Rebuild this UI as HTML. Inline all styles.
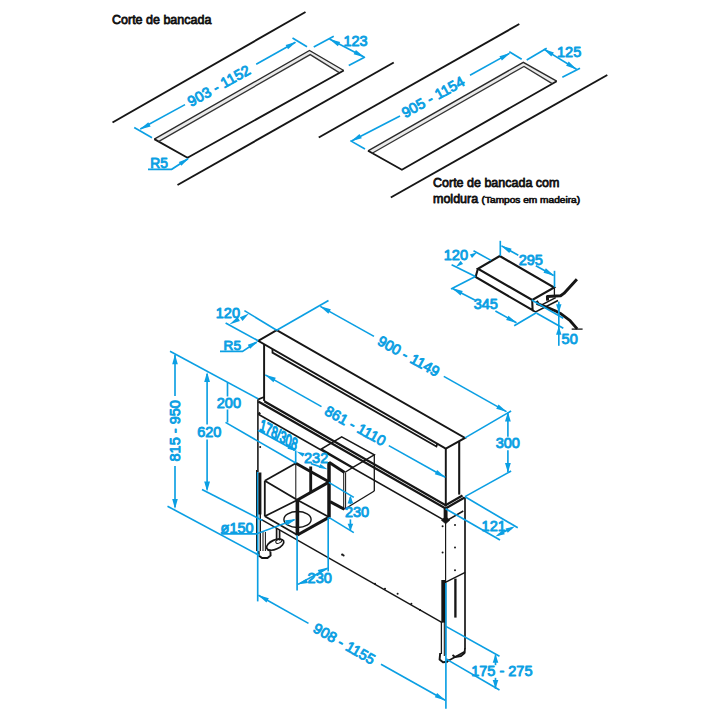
<!DOCTYPE html>
<html><head><meta charset="utf-8"><title>Dimensions</title>
<style>
html,body{margin:0;padding:0;background:#fff;}
body{width:720px;height:720px;overflow:hidden;}
svg{display:block;}
svg text{font-family:"Liberation Sans",sans-serif;stroke-linejoin:round;}
</style></head><body>
<svg width="720" height="720" viewBox="0 0 720 720">
<rect width="720" height="720" fill="#ffffff"/>
<line x1="112.50" y1="122.50" x2="305.50" y2="12.00" stroke="#161616" stroke-width="1.95" stroke-linecap="butt"/>
<line x1="177.50" y1="185.00" x2="393.75" y2="62.50" stroke="#161616" stroke-width="1.95" stroke-linecap="butt"/>
<polygon points="154.3,139.1 309.5,50.5 343.75,70.5 339.2,72.6 310.2,54.6 158.5,141.6" fill="#ebebeb"/>
<path d="M154.30 139.10 L309.50 50.50 L343.75 70.50" fill="none" stroke="#2a2a2a" stroke-width="1.37" stroke-linejoin="miter"/>
<path d="M343.75 70.50 L187.50 157.80 L154.30 139.10" fill="none" stroke="#161616" stroke-width="1.82" stroke-linejoin="miter"/>
<path d="M158.50 141.60 L310.20 54.60 L339.20 72.60" fill="none" stroke="#333" stroke-width="1.3" stroke-linejoin="miter"/>
<line x1="134.20" y1="127.50" x2="152.00" y2="137.70" stroke="#0b9fe3" stroke-width="1.65" stroke-linecap="butt"/>
<line x1="292.50" y1="38.00" x2="307.00" y2="46.80" stroke="#0b9fe3" stroke-width="1.65" stroke-linecap="butt"/>
<line x1="140.30" y1="129.00" x2="185.00" y2="104.60" stroke="#0b9fe3" stroke-width="1.65" stroke-linecap="butt"/>
<line x1="256.20" y1="64.20" x2="295.40" y2="42.30" stroke="#0b9fe3" stroke-width="1.65" stroke-linecap="butt"/>
<polygon points="139.80,129.60 148.29,122.18 150.63,126.49" fill="#0b9fe3"/>
<polygon points="296.40,41.70 288.05,49.26 285.63,45.00" fill="#0b9fe3"/>
<text x="0" y="0" font-size="14.5" fill="#0b9fe3" stroke="#0b9fe3" stroke-width="0.9" text-anchor="middle" transform="translate(218.90 85.50) rotate(-29.10) translate(0 5.19)" letter-spacing="0.12">903 - 1152</text>
<line x1="313.75" y1="47.00" x2="333.75" y2="36.25" stroke="#0b9fe3" stroke-width="1.65" stroke-linecap="butt"/>
<line x1="348.75" y1="65.50" x2="365.00" y2="57.00" stroke="#0b9fe3" stroke-width="1.65" stroke-linecap="butt"/>
<line x1="329.50" y1="39.00" x2="364.00" y2="57.00" stroke="#0b9fe3" stroke-width="1.65" stroke-linecap="butt"/>
<polygon points="329.30,38.90 340.17,41.88 337.87,46.21" fill="#0b9fe3"/>
<polygon points="364.50,57.20 353.63,54.22 355.93,49.89" fill="#0b9fe3"/>
<text x="343.40" y="46.00" font-size="14.5" fill="#0b9fe3" stroke="#0b9fe3" stroke-width="0.9" text-anchor="start">123</text>
<text x="150.30" y="167.60" font-size="13.8" fill="#0b9fe3" stroke="#0b9fe3" stroke-width="0.9" text-anchor="start">R5</text>
<path d="M148.00 169.30 L171.70 169.30 L188.00 158.80" fill="none" stroke="#0b9fe3" stroke-width="1.65" stroke-linejoin="miter"/>
<polygon points="189.30,157.90 181.33,165.82 178.82,161.96" fill="#0b9fe3"/>
<line x1="318.75" y1="137.50" x2="519.30" y2="24.00" stroke="#161616" stroke-width="1.95" stroke-linecap="butt"/>
<line x1="390.80" y1="197.50" x2="607.30" y2="75.00" stroke="#161616" stroke-width="1.95" stroke-linecap="butt"/>
<polygon points="368,150.8 523.3,62.3 556.7,81.2 552.2,83.6 524,66.4 372.2,153.3" fill="#ebebeb"/>
<path d="M368.00 150.80 L523.30 62.30 L556.70 81.20" fill="none" stroke="#2a2a2a" stroke-width="1.37" stroke-linejoin="miter"/>
<path d="M556.70 81.20 L401.90 169.70 L368.00 150.80" fill="none" stroke="#161616" stroke-width="1.82" stroke-linejoin="miter"/>
<path d="M372.20 153.30 L524.00 66.40 L552.20 83.60" fill="none" stroke="#333" stroke-width="1.3" stroke-linejoin="miter"/>
<line x1="350.30" y1="140.60" x2="365.00" y2="149.00" stroke="#0b9fe3" stroke-width="1.65" stroke-linecap="butt"/>
<line x1="509.30" y1="51.70" x2="521.70" y2="59.30" stroke="#0b9fe3" stroke-width="1.65" stroke-linecap="butt"/>
<line x1="351.50" y1="141.00" x2="400.00" y2="116.00" stroke="#0b9fe3" stroke-width="1.65" stroke-linecap="butt"/>
<line x1="470.00" y1="75.20" x2="509.40" y2="53.40" stroke="#0b9fe3" stroke-width="1.65" stroke-linecap="butt"/>
<polygon points="351.00,141.30 359.49,133.88 361.83,138.19" fill="#0b9fe3"/>
<polygon points="510.20,53.00 501.85,60.56 499.43,56.30" fill="#0b9fe3"/>
<text x="0" y="0" font-size="14.5" fill="#0b9fe3" stroke="#0b9fe3" stroke-width="0.9" text-anchor="middle" transform="translate(433.00 96.80) rotate(-29.10) translate(0 5.19)" letter-spacing="0.12">905 - 1154</text>
<line x1="526.70" y1="60.00" x2="546.70" y2="48.30" stroke="#0b9fe3" stroke-width="1.65" stroke-linecap="butt"/>
<line x1="562.30" y1="77.30" x2="580.00" y2="68.30" stroke="#0b9fe3" stroke-width="1.65" stroke-linecap="butt"/>
<line x1="543.80" y1="49.10" x2="576.50" y2="69.20" stroke="#0b9fe3" stroke-width="1.65" stroke-linecap="butt"/>
<polygon points="543.20,48.80 553.87,52.44 551.31,56.62" fill="#0b9fe3"/>
<polygon points="576.80,69.40 566.13,65.76 568.69,61.58" fill="#0b9fe3"/>
<text x="557.00" y="57.30" font-size="14.5" fill="#0b9fe3" stroke="#0b9fe3" stroke-width="0.9" text-anchor="start">125</text>
<text x="433.00" y="186.80" font-size="12.5" fill="#111" stroke="#111" stroke-width="0.78" text-anchor="start">Corte de bancada com</text>
<text x="433.00" y="203.10" font-size="12.5" fill="#111" stroke="#111" stroke-width="0.78" text-anchor="start">moldura</text>
<text x="481.60" y="202.80" font-size="8.6" fill="#111" stroke="#111" stroke-width="0.62" text-anchor="start" textLength="98.5" lengthAdjust="spacingAndGlyphs">(Tampos em madeira)</text>
<text x="112.00" y="23.80" font-size="12.5" fill="#111" stroke="#111" stroke-width="0.78" text-anchor="start">Corte de bancada</text>
<path d="M499.75 256.00 L554.20 287.50 L532.20 300.00 L477.90 268.75 Z" fill="none" stroke="#161616" stroke-width="2.08" stroke-linejoin="miter"/>
<path d="M477.90 268.75 L475.60 277.00 L532.60 310.20 L532.20 300.00" fill="none" stroke="#161616" stroke-width="2.08" stroke-linejoin="miter"/>
<path d="M532.60 310.20 L535.60 311.90 L558.00 300.60" fill="none" stroke="#161616" stroke-width="1.69" stroke-linejoin="miter"/>
<path d="M547.60 300.60 L547.40 296.50 L560.60 295.80 L563.90 293.40 L576.90 279.30" fill="none" stroke="#161616" stroke-width="2.99" stroke-linejoin="round"/>
<line x1="540.30" y1="305.60" x2="555.70" y2="297.60" stroke="#161616" stroke-width="1.56" stroke-linecap="butt"/>
<path d="M536.50 302.80 L538.50 301.60" fill="none" stroke="#161616" stroke-width="3.12" stroke-linejoin="miter"/>
<path d="M536.60 303.40 L547.60 307.70 L555.70 311.00 L560.40 313.40 L570.10 320.70 L577.20 328.90" fill="none" stroke="#161616" stroke-width="2.86" stroke-linejoin="round"/>
<line x1="571.70" y1="329.10" x2="582.60" y2="329.10" stroke="#161616" stroke-width="1.3" stroke-linecap="butt"/>
<line x1="500.30" y1="240.80" x2="500.30" y2="256.00" stroke="#0b9fe3" stroke-width="1.65" stroke-linecap="butt"/>
<line x1="554.50" y1="270.80" x2="554.50" y2="287.40" stroke="#0b9fe3" stroke-width="1.65" stroke-linecap="butt"/>
<line x1="554.40" y1="287.60" x2="554.40" y2="296.40" stroke="#161616" stroke-width="1.3" stroke-linecap="butt"/>
<line x1="501.60" y1="245.90" x2="518.30" y2="255.20" stroke="#0b9fe3" stroke-width="1.65" stroke-linecap="butt"/>
<line x1="535.80" y1="265.80" x2="553.60" y2="275.40" stroke="#0b9fe3" stroke-width="1.65" stroke-linecap="butt"/>
<polygon points="500.80,245.50 511.61,248.67 509.25,252.96" fill="#0b9fe3"/>
<polygon points="554.30,275.80 543.49,272.63 545.85,268.34" fill="#0b9fe3"/>
<text x="518.70" y="265.20" font-size="14.5" fill="#0b9fe3" stroke="#0b9fe3" stroke-width="0.9" text-anchor="start">295</text>
<line x1="473.50" y1="250.75" x2="491.00" y2="260.40" stroke="#0b9fe3" stroke-width="1.65" stroke-linecap="butt"/>
<line x1="451.60" y1="264.75" x2="475.40" y2="276.60" stroke="#0b9fe3" stroke-width="1.65" stroke-linecap="butt"/>
<polygon points="477.20,252.20 472.00,257.96 469.82,254.61" fill="#0b9fe3"/>
<polygon points="455.80,266.90 460.69,260.87 463.04,264.11" fill="#0b9fe3"/>
<text x="443.80" y="259.70" font-size="14.5" fill="#0b9fe3" stroke="#0b9fe3" stroke-width="0.9" text-anchor="start">120</text>
<line x1="475.40" y1="276.60" x2="451.00" y2="289.00" stroke="#0b9fe3" stroke-width="1.65" stroke-linecap="butt"/>
<line x1="452.40" y1="288.40" x2="474.80" y2="300.00" stroke="#0b9fe3" stroke-width="1.65" stroke-linecap="butt"/>
<line x1="495.40" y1="311.00" x2="516.40" y2="322.70" stroke="#0b9fe3" stroke-width="1.65" stroke-linecap="butt"/>
<polygon points="451.90,288.10 462.77,291.08 460.47,295.41" fill="#0b9fe3"/>
<polygon points="517.00,323.00 506.13,320.02 508.43,315.69" fill="#0b9fe3"/>
<text x="473.70" y="308.70" font-size="14.5" fill="#0b9fe3" stroke="#0b9fe3" stroke-width="0.9" text-anchor="start">345</text>
<line x1="514.20" y1="325.80" x2="536.70" y2="312.50" stroke="#0b9fe3" stroke-width="1.65" stroke-linecap="butt"/>
<line x1="558.80" y1="301.70" x2="558.80" y2="345.80" stroke="#0b9fe3" stroke-width="1.65" stroke-linecap="butt"/>
<polygon points="558.80,312.80 556.10,304.30 561.50,304.30" fill="#0b9fe3"/>
<polygon points="558.80,326.20 561.50,334.70 556.10,334.70" fill="#0b9fe3"/>
<text x="561.60" y="344.40" font-size="14.5" fill="#0b9fe3" stroke="#0b9fe3" stroke-width="0.9" text-anchor="start">50</text>
<line x1="531.70" y1="300.00" x2="563.30" y2="318.30" stroke="#0b9fe3" stroke-width="1.65" stroke-linecap="butt"/>
<line x1="536.70" y1="313.30" x2="563.30" y2="328.30" stroke="#0b9fe3" stroke-width="1.65" stroke-linecap="butt"/>
<path d="M258.20 340.80 L276.70 330.20 L465.00 437.90 L445.80 448.60 Z" fill="none" stroke="#161616" stroke-width="1.95" stroke-linejoin="miter"/>
<path d="M258.20 399.40 L264.10 397.00" fill="none" stroke="#161616" stroke-width="1.69" stroke-linejoin="miter"/>
<line x1="264.10" y1="344.18" x2="264.10" y2="401.00" stroke="#161616" stroke-width="1.95" stroke-linecap="butt"/>
<line x1="445.80" y1="448.60" x2="445.80" y2="506.50" stroke="#161616" stroke-width="1.95" stroke-linecap="butt"/>
<line x1="459.20" y1="441.20" x2="459.20" y2="494.60" stroke="#161616" stroke-width="2.08" stroke-linecap="butt"/>
<path d="M272.50 349.00 L272.50 352.60 L436.40 446.50 L437.40 443.57" fill="none" stroke="#161616" stroke-width="1.82" stroke-linejoin="miter"/>
<line x1="257.90" y1="399.20" x2="257.90" y2="472.00" stroke="#161616" stroke-width="1.56" stroke-linecap="butt"/>
<line x1="256.60" y1="470.00" x2="256.60" y2="551.00" stroke="#161616" stroke-width="1.17" stroke-linecap="butt"/>
<path d="M264.20 401.20 L445.60 505.30 L462.50 495.50" fill="none" stroke="#161616" stroke-width="2.27" stroke-linejoin="miter"/>
<path d="M258.30 401.50 L445.60 508.50 L464.60 497.40" fill="none" stroke="#161616" stroke-width="2.27" stroke-linejoin="miter"/>
<path d="M258.30 414.20 L445.80 521.10 L463.30 511.00" fill="none" stroke="#161616" stroke-width="1.56" stroke-linejoin="miter"/>
<path d="M258.60 412.60 L260.20 414.20" fill="none" stroke="#161616" stroke-width="2.08" stroke-linejoin="miter"/>
<line x1="445.60" y1="508.00" x2="445.60" y2="655.00" stroke="#161616" stroke-width="1.17" stroke-linecap="butt"/>
<line x1="445.60" y1="508.50" x2="445.60" y2="521.50" stroke="#161616" stroke-width="3.9" stroke-linecap="butt"/>
<path d="M445.60 516.60 L449.80 520.20 L445.60 523.80 L441.40 520.20 Z" fill="#161616" stroke="#161616" stroke-width="0.65" stroke-linejoin="miter"/>
<line x1="465.00" y1="497.00" x2="465.00" y2="648.50" stroke="#161616" stroke-width="1.69" stroke-linecap="butt"/>
<line x1="261.50" y1="519.60" x2="442.20" y2="622.60" stroke="#161616" stroke-width="1.43" stroke-linecap="butt"/>
<line x1="445.80" y1="582.20" x2="465.20" y2="572.40" stroke="#161616" stroke-width="1.43" stroke-linecap="butt"/>
<line x1="455.40" y1="578.60" x2="455.40" y2="617.60" stroke="#161616" stroke-width="2.34" stroke-linecap="butt"/>
<line x1="443.40" y1="580.00" x2="443.40" y2="622.60" stroke="#161616" stroke-width="4.16" stroke-linecap="butt"/>
<line x1="441.40" y1="622.00" x2="441.40" y2="654.00" stroke="#161616" stroke-width="1.3" stroke-linecap="butt"/>
<line x1="444.30" y1="622.00" x2="444.30" y2="656.00" stroke="#161616" stroke-width="1.04" stroke-linecap="butt"/>
<path d="M440.20 653.00 L439.60 659.50 L443.00 662.30 L447.00 661.80 L448.00 659.00" fill="none" stroke="#161616" stroke-width="1.95" stroke-linejoin="round"/>
<path d="M447.00 661.50 L465.00 651.50" fill="none" stroke="#161616" stroke-width="1.69" stroke-linejoin="miter"/>
<path d="M465.00 648.00 L464.60 653.00 L461.00 656.00 L455.00 657.00 L452.50 655.00" fill="none" stroke="#161616" stroke-width="1.82" stroke-linejoin="round"/>
<circle cx="442.60" cy="526.20" r="1.0" fill="#161616"/>
<circle cx="455.00" cy="525.00" r="1.0" fill="#161616"/>
<circle cx="442.60" cy="552.60" r="1.0" fill="#161616"/>
<circle cx="455.00" cy="547.60" r="1.0" fill="#161616"/>
<circle cx="455.00" cy="570.20" r="1.0" fill="#161616"/>
<circle cx="375.00" cy="583.80" r="1.0" fill="#161616"/>
<circle cx="385.00" cy="588.80" r="1.0" fill="#161616"/>
<circle cx="397.60" cy="593.80" r="1.0" fill="#161616"/>
<circle cx="411.40" cy="603.80" r="1.0" fill="#161616"/>
<circle cx="420.00" cy="610.00" r="1.0" fill="#161616"/>
<circle cx="342.30" cy="554.60" r="1.2" fill="#161616"/>
<circle cx="343.60" cy="555.40" r="1.0" fill="#161616"/>
<circle cx="260.20" cy="447.00" r="1.0" fill="#161616"/>
<path d="M264.80 480.80 L295.80 463.20" fill="none" stroke="#161616" stroke-width="1.82" stroke-linejoin="miter"/>
<path d="M264.80 480.80 L297.40 500.00" fill="none" stroke="#161616" stroke-width="1.82" stroke-linejoin="miter"/>
<path d="M264.80 480.80 L264.80 516.30" fill="none" stroke="#161616" stroke-width="1.82" stroke-linejoin="miter"/>
<path d="M264.80 516.30 L297.40 535.00" fill="none" stroke="#161616" stroke-width="1.82" stroke-linejoin="miter"/>
<path d="M264.80 516.30 L297.40 500.00" fill="none" stroke="#161616" stroke-width="1.69" stroke-linejoin="miter"/>
<path d="M297.40 500.00 L329.30 517.20" fill="none" stroke="#161616" stroke-width="1.69" stroke-linejoin="miter"/>
<line x1="295.80" y1="463.20" x2="295.80" y2="498.50" stroke="#161616" stroke-width="1.04" stroke-linecap="butt"/>
<path d="M295.80 463.20 L329.30 481.90" fill="none" stroke="#161616" stroke-width="2.86" stroke-linejoin="miter"/>
<path d="M297.40 500.00 L329.30 481.90" fill="none" stroke="#161616" stroke-width="3.12" stroke-linejoin="miter"/>
<line x1="329.00" y1="462.00" x2="329.00" y2="517.60" stroke="#161616" stroke-width="3.51" stroke-linecap="butt"/>
<line x1="297.40" y1="499.60" x2="297.40" y2="535.40" stroke="#161616" stroke-width="3.64" stroke-linecap="butt"/>
<path d="M297.40 535.00 L329.30 517.20" fill="none" stroke="#161616" stroke-width="3.12" stroke-linejoin="miter"/>
<line x1="310.70" y1="466.50" x2="310.70" y2="492.00" stroke="#161616" stroke-width="2.86" stroke-linecap="butt"/>
<ellipse cx="297.5" cy="519.5" rx="13.6" ry="8.0" fill="none" stroke="#161616" stroke-width="1.4"/>
<path d="M341.70 436.80 L374.30 454.80 L352.90 467.40 L321.30 449.00 Z" fill="none" stroke="#161616" stroke-width="1.49" stroke-linejoin="miter"/>
<line x1="374.30" y1="454.80" x2="374.30" y2="491.00" stroke="#161616" stroke-width="1.3" stroke-linecap="butt"/>
<path d="M352.90 467.40 L345.10 472.30" fill="none" stroke="#161616" stroke-width="1.3" stroke-linejoin="miter"/>
<line x1="343.70" y1="472.60" x2="343.70" y2="508.60" stroke="#161616" stroke-width="1.04" stroke-linecap="butt"/>
<line x1="345.60" y1="472.60" x2="345.60" y2="508.60" stroke="#161616" stroke-width="1.04" stroke-linecap="butt"/>
<path d="M329.00 462.30 L344.60 472.40" fill="none" stroke="#161616" stroke-width="2.99" stroke-linejoin="miter"/>
<path d="M330.00 501.60 L344.40 509.30" fill="none" stroke="#161616" stroke-width="2.99" stroke-linejoin="miter"/>
<path d="M344.40 509.30 L374.30 491.00" fill="none" stroke="#161616" stroke-width="1.3" stroke-linejoin="miter"/>
<line x1="260.30" y1="514.00" x2="260.30" y2="551.00" stroke="#161616" stroke-width="1.43" stroke-linecap="butt"/>
<line x1="263.00" y1="532.00" x2="263.00" y2="551.00" stroke="#161616" stroke-width="1.04" stroke-linecap="butt"/>
<line x1="265.40" y1="532.00" x2="265.40" y2="551.00" stroke="#161616" stroke-width="1.04" stroke-linecap="butt"/>
<path d="M258.60 551.00 L258.80 555.50 L262.00 558.00 L267.50 558.00 L270.60 555.50 L270.40 551.50" fill="none" stroke="#161616" stroke-width="1.95" stroke-linejoin="round"/>
<line x1="276.60" y1="528.50" x2="276.60" y2="540.50" stroke="#161616" stroke-width="1.69" stroke-linecap="butt"/>
<line x1="279.60" y1="530.00" x2="279.60" y2="540.50" stroke="#161616" stroke-width="1.69" stroke-linecap="butt"/>
<ellipse cx="275.2" cy="544.6" rx="9.2" ry="4.6" transform="rotate(-24 275.2 544.6)" fill="none" stroke="#161616" stroke-width="1.7"/>
<ellipse cx="278.8" cy="541.2" rx="3.2" ry="1.8" transform="rotate(-24 278.8 541.2)" fill="none" stroke="#161616" stroke-width="1.0"/>
<path d="M267.00 549.50 L270.50 551.50" fill="none" stroke="#161616" stroke-width="1.3" stroke-linejoin="miter"/>
<line x1="244.40" y1="310.60" x2="276.70" y2="330.20" stroke="#0b9fe3" stroke-width="1.65" stroke-linecap="butt"/>
<line x1="225.60" y1="323.10" x2="258.20" y2="340.80" stroke="#0b9fe3" stroke-width="1.65" stroke-linecap="butt"/>
<polygon points="248.90,313.50 242.57,320.94 239.86,317.22" fill="#0b9fe3"/>
<polygon points="229.30,324.60 237.54,316.96 239.91,320.91" fill="#0b9fe3"/>
<text x="215.80" y="317.90" font-size="14.5" fill="#0b9fe3" stroke="#0b9fe3" stroke-width="0.9" text-anchor="start">120</text>
<text x="223.60" y="350.00" font-size="13.6" fill="#0b9fe3" stroke="#0b9fe3" stroke-width="0.9" text-anchor="start">R5</text>
<path d="M220.00 351.40 L242.50 351.40 L256.60 342.20" fill="none" stroke="#0b9fe3" stroke-width="1.65" stroke-linejoin="miter"/>
<polygon points="258.40,341.00 250.16,348.64 247.79,344.69" fill="#0b9fe3"/>
<line x1="276.70" y1="330.20" x2="328.50" y2="300.50" stroke="#0b9fe3" stroke-width="1.65" stroke-linecap="butt"/>
<line x1="465.00" y1="437.90" x2="511.10" y2="411.00" stroke="#0b9fe3" stroke-width="1.65" stroke-linecap="butt"/>
<line x1="320.30" y1="306.40" x2="374.00" y2="336.40" stroke="#0b9fe3" stroke-width="1.65" stroke-linecap="butt"/>
<line x1="443.80" y1="376.40" x2="506.40" y2="411.60" stroke="#0b9fe3" stroke-width="1.65" stroke-linecap="butt"/>
<polygon points="320.00,306.20 330.81,309.37 328.45,313.66" fill="#0b9fe3"/>
<polygon points="507.00,412.00 496.19,408.83 498.55,404.54" fill="#0b9fe3"/>
<text x="0" y="0" font-size="14.5" fill="#0b9fe3" stroke="#0b9fe3" stroke-width="0.9" text-anchor="middle" transform="translate(408.80 356.00) rotate(28.90) translate(0 5.19)">900 - 1149</text>
<line x1="507.90" y1="412.40" x2="507.90" y2="436.80" stroke="#0b9fe3" stroke-width="1.65" stroke-linecap="butt"/>
<line x1="507.90" y1="450.20" x2="507.90" y2="472.00" stroke="#0b9fe3" stroke-width="1.65" stroke-linecap="butt"/>
<polygon points="507.90,412.00 510.80,421.50 505.00,421.50" fill="#0b9fe3"/>
<polygon points="507.90,472.60 505.00,463.10 510.80,463.10" fill="#0b9fe3"/>
<text x="495.70" y="448.20" font-size="14.5" fill="#0b9fe3" stroke="#0b9fe3" stroke-width="0.9" text-anchor="start">300</text>
<line x1="465.00" y1="496.60" x2="511.10" y2="471.00" stroke="#0b9fe3" stroke-width="1.65" stroke-linecap="butt"/>
<line x1="265.30" y1="374.90" x2="321.50" y2="406.60" stroke="#0b9fe3" stroke-width="1.65" stroke-linecap="butt"/>
<line x1="388.80" y1="445.60" x2="445.30" y2="477.20" stroke="#0b9fe3" stroke-width="1.65" stroke-linecap="butt"/>
<polygon points="265.00,374.70 275.81,377.87 273.45,382.16" fill="#0b9fe3"/>
<polygon points="445.60,477.40 434.79,474.23 437.15,469.94" fill="#0b9fe3"/>
<text x="0" y="0" font-size="14.5" fill="#0b9fe3" stroke="#0b9fe3" stroke-width="0.9" text-anchor="middle" transform="translate(355.40 425.60) rotate(28.90) translate(0 5.19)">861 - 1110</text>
<line x1="465.00" y1="496.80" x2="517.80" y2="527.80" stroke="#0b9fe3" stroke-width="1.65" stroke-linecap="butt"/>
<line x1="445.60" y1="508.80" x2="500.00" y2="540.00" stroke="#0b9fe3" stroke-width="1.65" stroke-linecap="butt"/>
<text x="481.60" y="530.60" font-size="14.5" fill="#0b9fe3" stroke="#0b9fe3" stroke-width="0.9" text-anchor="start">121</text>
<line x1="512.00" y1="527.90" x2="498.00" y2="535.00" stroke="#0b9fe3" stroke-width="1.65" stroke-linecap="butt"/>
<polygon points="515.10,526.30 507.68,532.66 505.59,528.56" fill="#0b9fe3"/>
<polygon points="495.30,536.40 502.72,530.04 504.81,534.14" fill="#0b9fe3"/>
<line x1="170.00" y1="351.20" x2="258.10" y2="398.80" stroke="#0b9fe3" stroke-width="1.65" stroke-linecap="butt"/>
<line x1="167.50" y1="506.20" x2="259.40" y2="555.40" stroke="#0b9fe3" stroke-width="1.65" stroke-linecap="butt"/>
<line x1="175.00" y1="354.80" x2="175.00" y2="396.00" stroke="#0b9fe3" stroke-width="1.65" stroke-linecap="butt"/>
<line x1="175.00" y1="466.00" x2="175.00" y2="507.20" stroke="#0b9fe3" stroke-width="1.65" stroke-linecap="butt"/>
<polygon points="175.00,354.20 177.80,364.20 172.20,364.20" fill="#0b9fe3"/>
<polygon points="175.00,509.00 172.20,499.00 177.80,499.00" fill="#0b9fe3"/>
<text x="0" y="0" font-size="14.5" fill="#0b9fe3" stroke="#0b9fe3" stroke-width="0.9" text-anchor="middle" transform="translate(174.80 430.80) rotate(-90.00) translate(0 5.19)">815 - 950</text>
<line x1="202.00" y1="489.40" x2="262.40" y2="520.40" stroke="#0b9fe3" stroke-width="1.65" stroke-linecap="butt"/>
<line x1="207.10" y1="374.00" x2="207.10" y2="424.50" stroke="#0b9fe3" stroke-width="1.65" stroke-linecap="butt"/>
<line x1="207.10" y1="439.50" x2="207.10" y2="489.60" stroke="#0b9fe3" stroke-width="1.65" stroke-linecap="butt"/>
<polygon points="207.10,372.00 210.00,382.00 204.20,382.00" fill="#0b9fe3"/>
<polygon points="207.10,491.40 204.20,481.40 210.00,481.40" fill="#0b9fe3"/>
<text x="197.20" y="437.00" font-size="14.5" fill="#0b9fe3" stroke="#0b9fe3" stroke-width="0.9" text-anchor="start">620</text>
<line x1="227.50" y1="382.50" x2="227.50" y2="396.50" stroke="#0b9fe3" stroke-width="1.65" stroke-linecap="butt"/>
<line x1="227.50" y1="409.50" x2="227.50" y2="422.50" stroke="#0b9fe3" stroke-width="1.65" stroke-linecap="butt"/>
<line x1="225.50" y1="422.40" x2="295.80" y2="463.00" stroke="#0b9fe3" stroke-width="1.65" stroke-linecap="butt"/>
<text x="216.80" y="407.60" font-size="14.5" fill="#0b9fe3" stroke="#0b9fe3" stroke-width="0.9" text-anchor="start">200</text>
<text x="0" y="0" font-size="16" fill="#0b9fe3" stroke="#0b9fe3" stroke-width="1.25" transform="translate(259.0 430.0) rotate(29.5) skewX(17)" textLength="42.5" lengthAdjust="spacingAndGlyphs">178/308</text>
<line x1="257.90" y1="430.20" x2="294.60" y2="450.20" stroke="#0b9fe3" stroke-width="1.65" stroke-linecap="butt"/>
<polygon points="295.60,450.70 287.52,448.71 289.81,444.72" fill="#0b9fe3"/>
<line x1="295.70" y1="450.40" x2="295.70" y2="463.20" stroke="#0b9fe3" stroke-width="1.65" stroke-linecap="butt"/>
<text x="304.00" y="463.40" font-size="14.5" fill="#0b9fe3" stroke="#0b9fe3" stroke-width="0.9" text-anchor="start">232</text>
<polygon points="296.60,451.40 304.64,453.25 302.82,456.81" fill="#0b9fe3"/>
<polygon points="327.80,469.60 318.76,467.77 320.39,464.11" fill="#0b9fe3"/>
<line x1="311.00" y1="463.60" x2="320.00" y2="466.80" stroke="#0b9fe3" stroke-width="1.65" stroke-linecap="butt"/>
<line x1="328.80" y1="482.40" x2="353.80" y2="497.40" stroke="#0b9fe3" stroke-width="1.65" stroke-linecap="butt"/>
<line x1="328.80" y1="517.40" x2="353.80" y2="532.60" stroke="#0b9fe3" stroke-width="1.65" stroke-linecap="butt"/>
<line x1="350.40" y1="497.20" x2="350.40" y2="504.20" stroke="#0b9fe3" stroke-width="1.65" stroke-linecap="butt"/>
<line x1="350.40" y1="519.40" x2="350.40" y2="530.20" stroke="#0b9fe3" stroke-width="1.65" stroke-linecap="butt"/>
<polygon points="350.40,495.40 353.20,503.40 347.60,503.40" fill="#0b9fe3"/>
<polygon points="350.40,530.80 347.60,523.80 353.20,523.80" fill="#0b9fe3"/>
<text x="344.90" y="517.20" font-size="14.5" fill="#0b9fe3" stroke="#0b9fe3" stroke-width="0.9" text-anchor="start">230</text>
<line x1="297.10" y1="535.40" x2="297.10" y2="590.50" stroke="#0b9fe3" stroke-width="1.65" stroke-linecap="butt"/>
<line x1="328.20" y1="517.60" x2="328.20" y2="571.40" stroke="#0b9fe3" stroke-width="1.65" stroke-linecap="butt"/>
<line x1="298.00" y1="584.40" x2="327.60" y2="568.20" stroke="#0b9fe3" stroke-width="1.65" stroke-linecap="butt"/>
<polygon points="297.30,584.40 306.38,578.65 307.95,582.97" fill="#0b9fe3"/>
<polygon points="328.20,567.40 319.77,574.07 317.75,569.94" fill="#0b9fe3"/>
<text x="307.60" y="583.30" font-size="14.5" fill="#0b9fe3" stroke="#0b9fe3" stroke-width="0.9" text-anchor="start">230</text>
<text x="220.60" y="532.60" font-size="14.5" fill="#0b9fe3" stroke="#0b9fe3" stroke-width="0.9" text-anchor="start">ø150</text>
<path d="M221.20 533.90 L256.20 533.90 L294.40 519.80" fill="none" stroke="#0b9fe3" stroke-width="1.65" stroke-linejoin="miter"/>
<polygon points="295.80,519.30 286.86,525.43 285.01,520.35" fill="#0b9fe3"/>
<line x1="257.70" y1="472.00" x2="257.70" y2="601.40" stroke="#0b9fe3" stroke-width="1.65" stroke-linecap="butt"/>
<line x1="445.90" y1="583.00" x2="445.90" y2="708.80" stroke="#0b9fe3" stroke-width="1.65" stroke-linecap="butt"/>
<line x1="258.40" y1="595.30" x2="308.50" y2="623.40" stroke="#0b9fe3" stroke-width="1.65" stroke-linecap="butt"/>
<line x1="381.00" y1="664.30" x2="445.20" y2="700.30" stroke="#0b9fe3" stroke-width="1.65" stroke-linecap="butt"/>
<polygon points="258.00,595.10 268.81,598.27 266.45,602.56" fill="#0b9fe3"/>
<polygon points="445.60,700.50 434.79,697.33 437.15,693.04" fill="#0b9fe3"/>
<text x="0" y="0" font-size="14.5" fill="#0b9fe3" stroke="#0b9fe3" stroke-width="0.9" text-anchor="middle" transform="translate(344.40 643.60) rotate(29.40) translate(0 5.19)">908 - 1155</text>
<line x1="445.90" y1="626.40" x2="499.50" y2="656.30" stroke="#0b9fe3" stroke-width="1.65" stroke-linecap="butt"/>
<line x1="445.90" y1="658.90" x2="499.50" y2="690.00" stroke="#0b9fe3" stroke-width="1.65" stroke-linecap="butt"/>
<line x1="495.50" y1="655.20" x2="495.50" y2="665.20" stroke="#0b9fe3" stroke-width="1.65" stroke-linecap="butt"/>
<line x1="495.50" y1="677.80" x2="495.50" y2="688.80" stroke="#0b9fe3" stroke-width="1.65" stroke-linecap="butt"/>
<polygon points="495.50,654.20 498.30,662.70 492.70,662.70" fill="#0b9fe3"/>
<polygon points="495.50,688.60 492.70,680.10 498.30,680.10" fill="#0b9fe3"/>
<text x="471.20" y="676.30" font-size="14.5" fill="#0b9fe3" stroke="#0b9fe3" stroke-width="0.9" text-anchor="start">175 - 275</text>
<line x1="259.90" y1="472.50" x2="259.90" y2="514.50" stroke="#161616" stroke-width="2.99" stroke-linecap="butt"/>
</svg>
</body></html>
